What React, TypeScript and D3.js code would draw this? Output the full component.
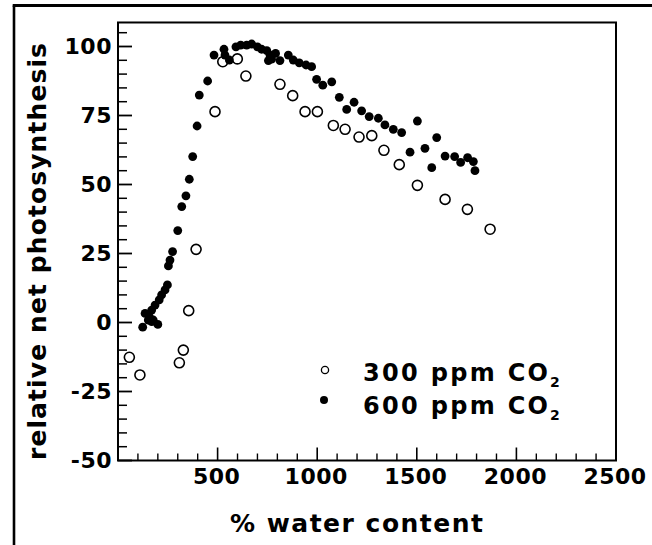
import React from "react";
import * as d3 from "d3";

const water300 = [57, 110, 308, 328, 355, 392, 487, 526, 599, 642, 813, 877, 939, 1001, 1081, 1140, 1210, 1274, 1335, 1412, 1503, 1642, 1754, 1868];
const photo300 = [-12.6, -19, -14.6, -10, 4.3, 26.5, 76.4, 94.5, 95.5, 89.3, 86.3, 82.2, 76.4, 76.4, 71.4, 70, 67.2, 67.7, 62.4, 57.2, 49.7, 44.6, 41, 33.8];

const water600 = [124, 136, 152, 157, 169, 169, 177, 186, 200, 207, 219, 236, 248, 253, 261, 274, 300, 320, 341, 358, 375, 397, 408, 450, 482, 532, 537, 559, 592, 616, 646, 671, 700, 721, 747, 755, 763, 771, 791, 813, 855, 880, 910, 944, 972, 997, 1028, 1073, 1111, 1148, 1185, 1223, 1261, 1307, 1340, 1382, 1424, 1466, 1503, 1541, 1575, 1600, 1642, 1690, 1720, 1755, 1784, 1792];
const photo600 = [-1.7, 3.3, 0.9, 2.1, 4.5, 0.3, 0.9, 6.3, -0.7, 8.2, 10, 11.8, 13.6, 20.5, 22.6, 25.7, 33.3, 42, 45.9, 51.9, 60.1, 71.2, 82.4, 87.5, 96.9, 99, 96.9, 95.1, 99.9, 100.5, 100.5, 100.9, 99.9, 99, 98.5, 94.9, 96.9, 95.4, 97.5, 94.9, 96.9, 95.1, 94.1, 93.3, 92.7, 88.1, 86, 87.2, 81.6, 77.2, 79.8, 76.7, 74.6, 74, 71.6, 70, 68.8, 61.7, 73, 63.1, 56.1, 67, 60.3, 60.1, 58, 59.7, 58.3, 55];

const xTickLabels = [500, 1000, 1500, 2000, 2500];
const yTickLabels = [-50, -25, 0, 25, 50, 75, 100];
const legendLabels = ["300 ppm CO", "600 ppm CO"];

export default function App() {
  const x = d3.scaleLinear().domain([0, 2500]).range([118, 616]);
  const y = d3.scaleLinear().domain([-50, 100]).range([460.5, 46.5]);
  const xMinor = d3.range(100, 2500, 100).filter((v) => v % 500 !== 0);
  const yMinor = d3.range(-45, 110, 5).filter((v) => v % 25 !== 0);
  const top = y(108.7);
  const font = "'DejaVu Sans', sans-serif";

  return (
    <svg width={652} height={545} style={{ position: "absolute", left: 0, top: 0, background: "#fff" }}>
      <rect x={0} y={0} width={652} height={545} fill="#fff" />
      {/* outer frame */}
      <line x1={14} y1={5.5} x2={14} y2={545} stroke="#000" strokeWidth={2.6} />
      <line x1={12.7} y1={5.5} x2={652} y2={5.5} stroke="#000" strokeWidth={2.8} />
      {/* plot box */}
      <rect x={x(0)} y={top} width={x(2500) - x(0)} height={y(-50) - top} fill="none" stroke="#000" strokeWidth={2} />
      {/* y ticks */}
      {yTickLabels.map((v) => (
        <line key={"ym" + v} x1={x(0)} x2={x(0) + 14} y1={y(v)} y2={y(v)} stroke="#000" strokeWidth={1.8} />
      ))}
      {yMinor.map((v) => (
        <line key={"yn" + v} x1={x(0)} x2={x(0) + 9} y1={y(v)} y2={y(v)} stroke="#000" strokeWidth={1.5} />
      ))}
      {/* x ticks */}
      {xTickLabels.map((v) => (
        <line key={"xm" + v} x1={x(v)} x2={x(v)} y1={y(-50)} y2={y(-50) - 13} stroke="#000" strokeWidth={1.6} />
      ))}
      {xMinor.map((v) => (
        <line key={"xn" + v} x1={x(v)} x2={x(v)} y1={y(-50)} y2={y(-50) - 7} stroke="#000" strokeWidth={1.4} />
      ))}
      {/* y tick labels */}
      {yTickLabels.map((v) => (
        <text key={"yl" + v} x={112} y={y(v)} dy="0.36em" textAnchor="end" fontFamily={font} fontWeight="bold" fontSize={22} letterSpacing={0.5} fill="#000">
          {String(v)}
        </text>
      ))}
      {/* x tick labels */}
      {xTickLabels.map((v) => (
        <text key={"xl" + v} x={x(v) - 1} y={484} textAnchor="middle" fontFamily={font} fontWeight="bold" fontSize={22} letterSpacing={0.5} fill="#000">
          {String(v)}
        </text>
      ))}
      {/* axis titles */}
      <text x={230} y={532} fontFamily={font} fontWeight="bold" fontSize={25} textLength={253} lengthAdjust="spacing" fill="#000">
        % water content
      </text>
      <text transform="translate(46,460) rotate(-90)" fontFamily={font} fontWeight="bold" fontSize={25} textLength={417} lengthAdjust="spacing" fill="#000">
        relative net photosynthesis
      </text>
      {/* data */}
      {water300.map((w, i) => (
        <circle key={"o" + i} cx={x(w)} cy={y(photo300[i])} r={5} fill="none" stroke="#000" strokeWidth={1.6} />
      ))}
      {water600.map((w, i) => (
        <circle key={"f" + i} cx={x(w)} cy={y(photo600[i])} r={4.4} fill="#000" />
      ))}
      {/* legend */}
      <circle cx={325} cy={370} r={3.6} fill="none" stroke="#000" strokeWidth={1.3} />
      <circle cx={324} cy={400} r={4} fill="#000" />
      {legendLabels.map((t, i) => (
        <g key={"lg" + i}>
          <text x={363} y={381 + i * 32.5} fontFamily={font} fontWeight="bold" fontSize={24} textLength={185} lengthAdjust="spacing" fill="#000">
            {t}
          </text>
          <text x={550} y={387 + i * 32.5} fontFamily={font} fontWeight="bold" fontSize={14} fill="#000">
            2
          </text>
        </g>
      ))}
    </svg>
  );
}
